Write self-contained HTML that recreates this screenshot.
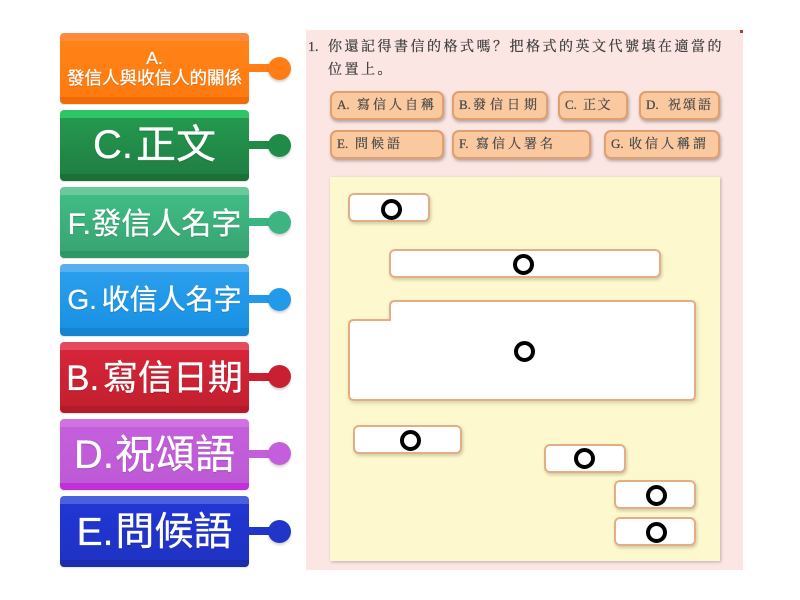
<!DOCTYPE html>
<html><head><meta charset="utf-8"><style>
html,body{margin:0;padding:0;background:#fff;width:800px;height:600px;overflow:hidden}
body{position:relative;font-family:"Liberation Sans","Noto Sans CJK TC",sans-serif}
.card{position:absolute;left:60px;width:189px;height:71px;border-radius:4px;color:#fff;text-align:center;white-space:pre;overflow:hidden;box-shadow:0 1px 1px rgba(0,0,0,.12)}
.card span{position:absolute;left:0;right:0;top:0;height:71px;display:flex;align-items:center;justify-content:center;text-shadow:0 1px 1px rgba(0,0,0,.2);-webkit-text-stroke:.3px #fff}
.card span.one{display:block;line-height:71px}
.st{position:absolute;left:249px;width:22px;height:8px}
.dot{position:absolute;left:267.5px;width:23px;height:23px;border-radius:50%;box-shadow:0 2px 2px rgba(0,0,0,.18)}
#panel{position:absolute;left:306px;top:30px;width:437px;height:540px;background:#fbe6e3}
#q{position:absolute;left:308px;top:36px;width:430px;font-family:"Liberation Serif","Noto Serif CJK SC",serif;font-size:14px;line-height:23px;color:#3d3d3d;letter-spacing:2.5px;-webkit-text-stroke:.25px #3d3d3d;filter:blur(.3px);white-space:nowrap}
#q b{display:inline-block;width:20px;font-weight:normal;letter-spacing:0}
.tag{position:absolute;height:25px;line-height:24px;background:#fbc9a0;border:2px solid #e09f70;border-radius:7px;font-family:"Liberation Serif","Noto Serif CJK SC",serif;font-size:13px;letter-spacing:3px;color:#4a4a4a;-webkit-text-stroke:.25px #4a4a4a;padding-left:5px;box-shadow:1px 2px 3px rgba(0,0,0,.3);white-space:nowrap;filter:blur(.25px)}
.tag b{display:inline-block;font-weight:normal;letter-spacing:0}
#yellow{position:absolute;left:330px;top:177px;width:390px;height:384px;background:#fdf8ce;box-shadow:1px 1px 3px rgba(0,0,0,.25)}
.box{position:absolute;box-sizing:border-box;height:29px;background:#fff;border:2px solid #e4ae84;border-radius:6px;box-shadow:1px 2px 3px rgba(0,0,0,.18)}
.o{position:absolute;box-sizing:border-box;width:21px;height:21px;border:4.5px solid #000;border-radius:50%;background:#fff}
</style></head><body>

<div class="card" style="top:33px;background:linear-gradient(#ff8a3c 0 8px,#ff8418 8px,#ff7a0f 64px,#ee6c0a 64px)"><span style="font-size:17.5px;line-height:20px;top:-1px;display:block;padding-top:16px;height:55px">A.<br>發信人與收信人的關係</span></div>
<div class="st" style="top:64px;background:#ff7d14"></div><div class="dot" style="top:57px;background:#ff7d14"></div>

<div class="card" style="top:110px;background:linear-gradient(#2ec566 0 8px,#24994f 8px,#1f7f43 64px,#1b7038 64px)"><span class="one" style="font-size:40px;top:0;word-spacing:-8px">C. 正文</span></div>
<div class="st" style="top:141px;background:#208a49"></div><div class="dot" style="top:134px;background:#208a49"></div>

<div class="card" style="top:187px;background:linear-gradient(#6cc99b 0 8px,#40bc84 8px,#38a573 64px,#2f9665 64px)"><span class="one" style="font-size:30px;top:2px;word-spacing:-8px">F. 發信人名字</span></div>
<div class="st" style="top:218px;background:#3cb582"></div><div class="dot" style="top:211px;background:#3cb582"></div>

<div class="card" style="top:264px;height:72px;background:linear-gradient(#55aff0 0 8px,#2a9eec 8px,#1a92e4 64px,#1585d2 64px)"><span class="one" style="font-size:28px;top:0;word-spacing:-3px">G. 收信人名字</span></div>
<div class="st" style="top:295px;background:#2299e9"></div><div class="dot" style="top:288px;background:#2299e9"></div>

<div class="card" style="top:342px;background:linear-gradient(#e64a5e 0 8px,#d62538 8px,#c4202f 64px,#b31b2c 64px)"><span class="one" style="font-size:35px;top:1px;word-spacing:-6px">B. 寫信日期</span></div>
<div class="st" style="top:373px;background:#c91f33"></div><div class="dot" style="top:365px;background:#c91f33"></div>

<div class="card" style="top:419px;background:linear-gradient(#d272e2 0 8px,#c45fdc 8px,#be5ad6 64px,#c12fd8 64px)"><span class="one" style="font-size:40px;top:1px;word-spacing:-10px">D. 祝頌語</span></div>
<div class="st" style="top:450px;background:#c45fdc"></div><div class="dot" style="top:442px;background:#c45fdc"></div>

<div class="card" style="top:496px;background:linear-gradient(#4a60dd 0 8px,#2136d4 8px,#1f33c4 64px,#1b2cae 64px)"><span class="one" style="font-size:39px;top:1px;word-spacing:-9px">E. 問候語</span></div>
<div class="st" style="top:527px;background:#2136c8"></div><div class="dot" style="top:520px;background:#2136c8"></div>

<div id="panel"></div>
<div style="position:absolute;left:740px;top:30px;width:3px;height:3px;background:#c0392b"></div>
<div id="q"><b>1.</b>你還記得書信的格式嗎？把格式的英文代號填在適當的<br><b>&nbsp;</b>位置上。</div>

<div class="tag" style="left:330px;top:91px;width:105px"><b style="width:20px">A.</b>寫信人自稱</div>
<div class="tag" style="left:452px;top:91px;width:87px;letter-spacing:4px"><b style="width:14px">B.</b>發信日期</div>
<div class="tag" style="left:558px;top:91px;width:61px;letter-spacing:1.5px"><b style="width:18px">C.</b>正文</div>
<div class="tag" style="left:639px;top:91px;width:72px;letter-spacing:2px"><b style="width:22px">D.</b>祝頌語</div>
<div class="tag" style="left:330px;top:130px;width:105px"><b style="width:18px">E.</b>問候語</div>
<div class="tag" style="left:452px;top:130px;width:130px"><b style="width:17px">F.</b>寫信人署名</div>
<div class="tag" style="left:604px;top:130px;width:107px"><b style="width:18px">G.</b>收信人稱謂</div>

<div id="yellow"></div>
<div class="box" style="left:348px;top:193px;width:82px"></div>
<div class="box" style="left:389px;top:249px;width:272px"></div>
<svg style="position:absolute;left:345px;top:297px;filter:drop-shadow(1px 2px 2px rgba(0,0,0,.16))" width="356" height="108" viewBox="0 0 356 108">
<path d="M45 9Q45 4 50 4H346Q350 4 350 8V98Q350 103 345 103H9Q4 103 4 98V28Q4 23 9 23H45Z" fill="#fff" stroke="#e4ae84" stroke-width="2"/>
</svg>
<div class="box" style="left:353px;top:425px;width:109px"></div>
<div class="box" style="left:544px;top:444px;width:82px"></div>
<div class="box" style="left:614px;top:480px;width:82px"></div>
<div class="box" style="left:614px;top:517px;width:82px"></div>

<div class="o" style="left:381px;top:199px"></div>
<div class="o" style="left:513px;top:254px"></div>
<div class="o" style="left:514px;top:341px"></div>
<div class="o" style="left:400px;top:430px"></div>
<div class="o" style="left:574px;top:448px"></div>
<div class="o" style="left:646px;top:485px"></div>
<div class="o" style="left:646px;top:522px"></div>
</body></html>
